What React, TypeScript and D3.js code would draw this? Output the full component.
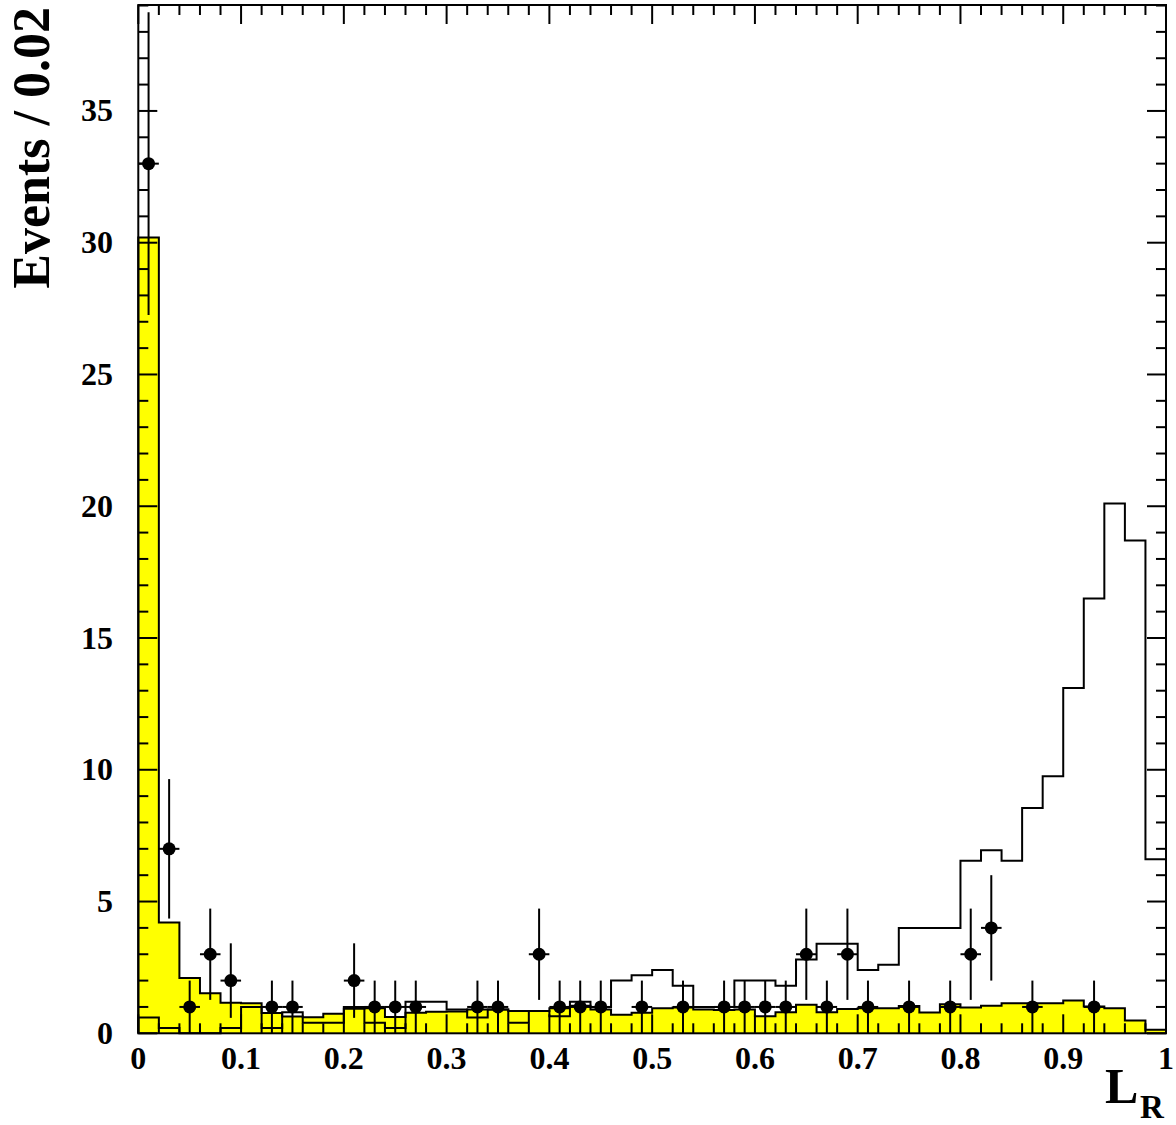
import { useEffect } from "react";
import * as d3 from "d3";

// bin width 0.02, 50 bins from 0 to 1
const BIN_WIDTH = 0.02;

// yellow filled histogram (background)
const BKG = [
  30.2, 4.2, 2.1, 1.52, 1.16, 1.14, 0.77, 0.64, 0.61, 0.74,
  0.93, 0.95, 0.62, 0.78, 0.82, 0.83, 0.9, 0.9, 0.85, 0.85,
  0.95, 1.05, 0.9, 0.7, 0.78, 0.95, 0.98, 0.9, 0.88, 0.9,
  0.65, 0.8, 1.08, 0.8, 0.92, 0.95, 0.95, 1.04, 0.79, 1.1,
  0.98, 1.05, 1.14, 1.14, 1.14, 1.24, 1.02, 0.95, 0.49, 0.13,
];

// open histogram (signal)
const SIG = [
  0.6, 0.2, 0, 0, 0.2, 1.0, 0.2, 0.8, 0.4, 0.4,
  1.0, 0.4, 0.2, 1.2, 1.2, 0.9, 0.6, 0.9, 0.4, 0.85,
  0.65, 1.2, 1.0, 2.0, 2.2, 2.4, 1.8, 1.0, 1.0, 2.0,
  2.0, 1.8, 2.8, 3.4, 3.4, 2.4, 2.6, 4.0, 4.0, 4.0,
  6.55, 6.95, 6.55, 8.55, 9.75, 13.1, 16.5, 20.1, 18.7, 6.6,
];

// data counts per bin
const DATA = [
  33, 7, 1, 3, 2, 0, 1, 1, 0, 0,
  2, 1, 1, 1, 0, 0, 1, 1, 0, 3,
  1, 1, 1, 0, 1, 0, 1, 0, 1, 1,
  1, 1, 3, 1, 3, 1, 0, 1, 0, 1,
  3, 4, 0, 1, 0, 0, 1, 0, 0, 0,
];

const X_TICKS = [0, 0.1, 0.2, 0.3, 0.4, 0.5, 0.6, 0.7, 0.8, 0.9, 1];
const X_TICK_LABELS = ["0", "0.1", "0.2", "0.3", "0.4", "0.5", "0.6", "0.7", "0.8", "0.9", "1"];
const Y_TICKS = [0, 5, 10, 15, 20, 25, 30, 35];

const FONT = "'Liberation Serif', 'Times New Roman', serif";

export default function App() {
  useEffect(() => {
    document.body.style.margin = "0";
  }, []);

  const W = 1176;
  const H = 1125;
  const left = 138.3;
  const right = 1166;
  const top = 5;
  const bottom = 1033.3;

  const x = d3.scaleLinear().domain([0, 1]).range([left, right]);
  const y = d3.scaleLinear().domain([0, 39.02]).range([bottom, top]);

  const steps = (vals: number[]) => {
    const pts: [number, number][] = [[0, 0]];
    vals.forEach((v, i) => pts.push([i * BIN_WIDTH, v]));
    pts.push([1, vals[vals.length - 1]]);
    pts.push([1, 0]);
    return pts;
  };

  const line = d3
    .line<[number, number]>()
    .x((d) => x(d[0]))
    .y((d) => y(d[1]))
    .curve(d3.curveStepAfter);

  const area = d3
    .area<[number, number]>()
    .x((d) => x(d[0]))
    .y0(y(0))
    .y1((d) => y(d[1]))
    .curve(d3.curveStepAfter);

  const bkgPts = steps(BKG);
  const sigPts = steps(SIG);

  const minorX = d3.range(0, 51).map((i) => i * BIN_WIDTH);
  const minorY = d3.range(0, 40);

  const majorLen = 19;
  const minorLen = 10;

  return (
    <svg width={W} height={H} style={{ display: "block", position: "absolute", left: 0, top: 0 }}>
      <rect x={0} y={0} width={W} height={H} fill="#fff" />

      {/* yellow background */}
      <path d={area(bkgPts) ?? ""} fill="#ffff00" stroke="none" />
      <path d={line(bkgPts) ?? ""} fill="none" stroke="#000" strokeWidth={2} />

      {/* signal outline */}
      <path d={line(sigPts) ?? ""} fill="none" stroke="#000" strokeWidth={2} />

      {/* ticks */}
      <g stroke="#000" strokeWidth={2}>
        {minorX.map((v, i) => {
          const len = i % 5 === 0 ? majorLen : minorLen;
          return (
            <g key={"xt" + i}>
              <line x1={x(v)} x2={x(v)} y1={bottom} y2={bottom - len} />
              <line x1={x(v)} x2={x(v)} y1={top} y2={top + len} />
            </g>
          );
        })}
        {minorY.map((v) => {
          const len = v % 5 === 0 ? majorLen : minorLen;
          return (
            <g key={"yt" + v}>
              <line x1={left} x2={left + len} y1={y(v)} y2={y(v)} />
              <line x1={right} x2={right - len} y1={y(v)} y2={y(v)} />
            </g>
          );
        })}
      </g>

      {/* data points */}
      <g stroke="#000" strokeWidth={2} fill="#000">
        {DATA.map((n, i) => {
          if (n <= 0) return null;
          const c = (i + 0.5) * BIN_WIDTH;
          const e = Math.sqrt(n);
          return (
            <g key={"d" + i}>
              <line x1={x(c)} x2={x(c)} y1={y(n - e)} y2={y(Math.min(n + e, 39.02))} />
              <line x1={x(c - BIN_WIDTH / 2)} x2={x(c + BIN_WIDTH / 2)} y1={y(n)} y2={y(n)} />
              <circle cx={x(c)} cy={y(n)} r={6.5} stroke="none" />
            </g>
          );
        })}
      </g>

      {/* frame */}
      <rect x={left} y={top} width={right - left} height={bottom - top} fill="none" stroke="#000" strokeWidth={2} />

      {/* tick labels */}
      <g fontFamily={FONT} fontWeight="bold" fontSize={32} fill="#000">
        {X_TICKS.map((v, i) => (
          <text key={"xl" + i} x={x(v)} y={1069} textAnchor="middle">
            {X_TICK_LABELS[i]}
          </text>
        ))}
        {Y_TICKS.map((v) => (
          <text key={"yl" + v} x={113} y={y(v) + 10.5} textAnchor="end">
            {v}
          </text>
        ))}
      </g>

      {/* axis titles */}
      <text
        transform="translate(49,7) rotate(-90)"
        textAnchor="end"
        fontFamily={FONT}
        fontWeight="bold"
        fontSize={52}
        fill="#000"
      >
        Events / 0.02
      </text>
      <text x={1105} y={1103} fontFamily={FONT} fontWeight="bold" fontSize={50} fill="#000">
        L
      </text>
      <text x={1140} y={1118} fontFamily={FONT} fontWeight="bold" fontSize={33} fill="#000">
        R
      </text>
    </svg>
  );
}
